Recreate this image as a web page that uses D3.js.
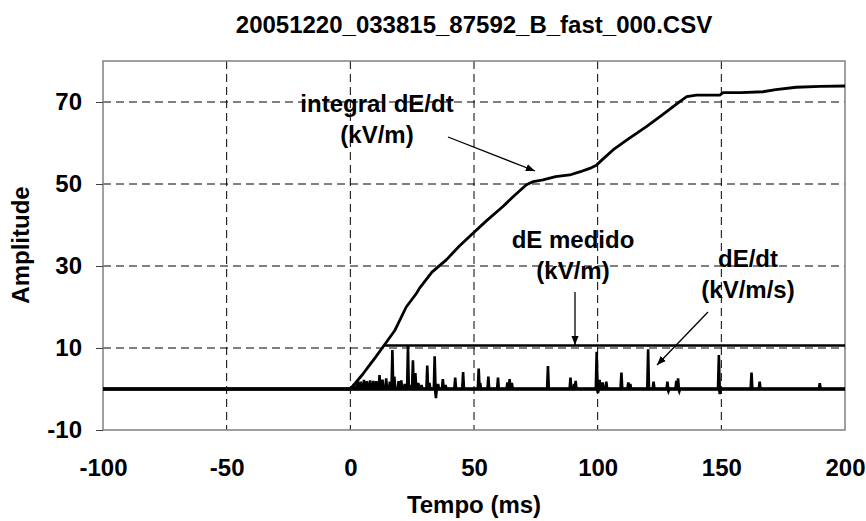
<!DOCTYPE html>
<html>
<head>
<meta charset="utf-8">
<title>dE/dt</title>
<style>
  body { margin: 0; background: #fff; }
  svg text { font-family: "Liberation Sans", Arial, sans-serif; font-weight: bold; fill: #000; }
</style>
</head>
<body>
<script src="https://d3js.org/d3.v7.min.js"></script>
<script>
// data
var xTicks = [-100, -50, 0, 50, 100, 150, 200];
var yTicks = [-10, 10, 30, 50, 70];
var xGrid = [-50, 0, 50, 100, 150];
var yGrid = [10, 30, 50, 70];

// integral dE/dt (kV/m)
var intT = [-100, 0, 2, 5, 8, 10, 13.6, 17.9, 22.6, 26.7, 28, 33, 38.8, 44, 49.6, 55, 61.7, 66, 71.2, 74, 77.9, 83, 88.7, 93, 96.8, 99.5, 102, 106.2, 112, 119.7, 126, 133.2, 136, 139.9, 149.4, 150.7, 158, 166.8, 172, 180.3, 190, 200];
var intV = [0, 0, 1.4, 3.6, 6, 7.6, 10.6, 14.2, 20, 23.3, 24.6, 28.5, 31.5, 34.8, 38, 41, 44.5, 47, 49.8, 50.6, 51, 51.8, 52.2, 53, 53.8, 54.6, 56, 58.3, 60.8, 64, 66.8, 70.1, 71.3, 71.7, 71.7, 72.3, 72.3, 72.5, 73, 73.6, 73.8, 73.9];

// dE medido (kV/m)
var medT = [13.6, 200];
var medV = [10.6, 10.6];

// dE/dt (kV/m/s) spikes
var spkT = [1.5, 3, 4.2, 5.5, 6.7, 8, 9.3, 10.5, 11.8, 13, 14.5, 16, 17.0, 17.8, 19.5, 20.6, 22, 23.3, 24.2, 25.3, 26.3, 27.5, 28.8, 31.1, 32, 34.1, 34.6, 35.5, 37.4, 38.5, 42.4, 45.6, 51.9, 52.5, 55.8, 59.7, 63.5, 64.4, 65.3, 79.9, 89, 90.5, 91.1, 99.6, 100.1, 100.8, 102, 103.5, 109.6, 112.4, 113.2, 120.4, 122.6, 128.2, 128.6, 131.8, 132.5, 133, 149, 149.4, 162.2, 165.5, 189.8];
var spkV = [1.2, 2.0, 1.8, 2.2, 1.9, 2.1, 2.0, 1.9, 3.4, 2.3, 2.6, 1.8, 9.5, 3.0, 1.9, 2.1, 1.2, 10.5, 1.0, 7.0, 3.9, 1.5, 1.0, 5.7, 1.5, 8.0, -2.2, 1.2, 2.4, 1.0, 2.8, 4.1, 5.0, 1.5, 3.0, 2.8, 1.6, 2.4, 1.5, 5.6, 2.8, 1.2, 2.0, 9.1, -1.0, 2.2, 1.6, 1.8, 4.0, 1.6, 1.2, 9.7, 1.8, 1.8, -0.6, 2.0, 2.6, -0.6, 8.3, -1.2, 4.0, 1.8, 1.4];

var W = 866, H = 521;
var m = {left: 103, top: 61, right: 845, bottom: 430};
var fs = "24px";

var svg = d3.select("body").append("svg").attr("width", W).attr("height", H);

var x = d3.scaleLinear().domain([-100, 200]).range([m.left, m.right]);
var y = d3.scaleLinear().domain([-10, 80]).range([m.bottom, m.top]);
var fmt = function(d){return String(d)}; // plain hyphen minus

// grid
svg.selectAll("line.gx").data(xGrid).enter().append("line")
  .attr("x1", function(d){return x(d)}).attr("x2", function(d){return x(d)})
  .attr("y1", m.top).attr("y2", m.bottom)
  .attr("stroke", "#000").attr("stroke-width", 1).attr("stroke-dasharray", "8,5");
svg.selectAll("line.gy").data(yGrid).enter().append("line")
  .attr("y1", function(d){return y(d)}).attr("y2", function(d){return y(d)})
  .attr("x1", m.left).attr("x2", m.right)
  .attr("stroke", "#000").attr("stroke-width", 1).attr("stroke-dasharray", "8,5");

// frame
svg.append("rect").attr("x", m.left).attr("y", m.top)
  .attr("width", m.right - m.left).attr("height", m.bottom - m.top)
  .attr("fill", "none").attr("stroke", "#808080").attr("stroke-width", 1.5);

// y axis
var yAx = svg.append("g").attr("transform", "translate(" + m.left + ",0)")
  .call(d3.axisLeft(y).tickValues(yTicks).tickFormat(fmt).tickSize(7).tickPadding(14));
yAx.select(".domain").remove();
yAx.selectAll("line").attr("stroke", "#404040");
yAx.selectAll("text").style("font-size", fs).attr("fill", "#000");

// x axis labels
var xAx = svg.append("g").attr("transform", "translate(0," + m.bottom + ")")
  .call(d3.axisBottom(x).tickValues(xTicks).tickFormat(fmt).tickSize(0).tickPadding(29));
xAx.select(".domain").remove();
xAx.selectAll("text").style("font-size", fs).attr("fill", "#000");

var line = d3.line().x(function(d){return x(d[0])}).y(function(d){return y(d[1])});

// dE/dt series: baseline with spikes
var spk = [[-100, 0], [0, 0]];
spkT.forEach(function(t, i){
  spk.push([t - 0.35, 0]);
  spk.push([t, spkV[i]]);
  spk.push([t + 0.35, 0]);
});
spk.push([200, 0]);
svg.append("path").datum(spk).attr("d", line)
  .attr("fill", "none").attr("stroke", "#000").attr("stroke-width", 2.6);
svg.append("path").datum([[-100, 0], [200, 0]]).attr("d", line)
  .attr("fill", "none").attr("stroke", "#000").attr("stroke-width", 3.5);

// dE medido
svg.append("path").datum(medT.map(function(t, i){return [t, medV[i]]})).attr("d", line)
  .attr("fill", "none").attr("stroke", "#000").attr("stroke-width", 2.5);

// integral
svg.append("path").datum(intT.map(function(t, i){return [t, intV[i]]})).attr("d", line)
  .attr("fill", "none").attr("stroke", "#000").attr("stroke-width", 2.8)
  .attr("stroke-linejoin", "round");

// title and axis titles
svg.append("text").attr("x", (m.left + m.right) / 2).attr("y", 33)
  .attr("text-anchor", "middle").style("font-size", fs)
  .text("20051220_033815_87592_B_fast_000.CSV");
svg.append("text").attr("x", (m.left + m.right) / 2).attr("y", 513)
  .attr("text-anchor", "middle").style("font-size", fs).text("Tempo (ms)");
svg.append("text").attr("transform", "translate(29,245) rotate(-90)")
  .attr("text-anchor", "middle").style("font-size", fs).text("Amplitude");

// annotations
var defs = svg.append("defs");
defs.append("marker").attr("id", "arr").attr("viewBox", "0 0 10 10")
  .attr("refX", 10).attr("refY", 5).attr("markerWidth", 7).attr("markerHeight", 7)
  .attr("orient", "auto").append("path").attr("d", "M0,1 L10,5 L0,9 Z").attr("fill", "#000");

var notes = [
  {lines: ["integral dE/dt", "(kV/m)"], cx: 377, by: 112, a: [448, 137, 535, 171]},
  {lines: ["dE medido", "(kV/m)"], cx: 573, by: 248, a: [575, 292, 575, 345]},
  {lines: ["dE/dt", "(kV/m/s)"], cx: 748, by: 267, a: [708, 312, 657, 365]}
];
notes.forEach(function(n){
  n.lines.forEach(function(s, i){
    svg.append("text").attr("x", n.cx).attr("y", n.by + i * 31)
      .attr("text-anchor", "middle").style("font-size", fs).text(s);
  });
  svg.append("line").attr("x1", n.a[0]).attr("y1", n.a[1]).attr("x2", n.a[2]).attr("y2", n.a[3])
    .attr("stroke", "#000").attr("stroke-width", 1.3).attr("marker-end", "url(#arr)");
});
</script>
</body>
</html>
